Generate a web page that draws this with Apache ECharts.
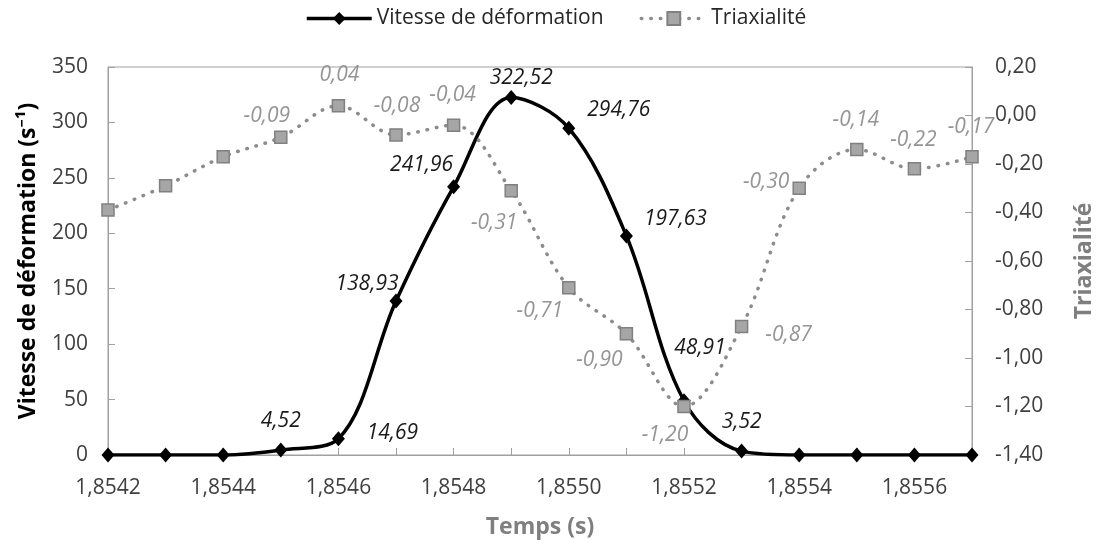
<!DOCTYPE html>
<html>
<head>
<meta charset="utf-8">
<script src="https://cdn.jsdelivr.net/npm/echarts@6/dist/echarts.min.js"></script>
<style>
  html, body { margin: 0; padding: 0; background: #ffffff; }
  #chart { width: 1104px; height: 544px; }
</style>
</head>
<body>
<div id="chart"></div>
<script>
// ---- Data ----
const temps = [1.8542, 1.8543, 1.8544, 1.8545, 1.8546, 1.8547, 1.8548, 1.8549,
               1.8550, 1.8551, 1.8552, 1.8553, 1.8554, 1.8555, 1.8556, 1.8557];
const vitesse = [0, 0, 0, 4.52, 14.69, 138.93, 241.96, 322.52,
                 294.76, 197.63, 48.91, 3.52, 0, 0, 0, 0];
const triaxialite = [-0.39, -0.29, -0.17, -0.09, 0.04, -0.08, -0.04, -0.31,
                     -0.71, -0.90, -1.20, -0.87, -0.30, -0.14, -0.22, -0.17];
const leftTicks = { min: 0, max: 350, step: 50 };
const rightTicks = { min: -1.4, max: 0.2, step: 0.2 };
const seriesNames = ['Vitesse de déformation', 'Triaxialité'];

// ---- Presentation ----
const FONT = "'Open Sans', 'Noto Sans', 'DejaVu Sans', sans-serif";
const fmtComma = (v, d) => (Math.abs(v) < 1e-9 ? 0 : v).toFixed(d).replace('.', ',');

// label offsets (label centre relative to marker), by point index
const vitesseLabelOffsets = {
  3: [0, -29], 4: [54, -6], 5: [-29, -17], 6: [-32, -22], 7: [10, -19],
  8: [50, -18], 9: [49, -17], 10: [16, -53], 11: [0, -29]
};
const triaxLabelOffsets = {
  3: [-14, -21], 4: [1, -31], 5: [1, -29], 6: [-1, -30], 7: [-17, 32],
  8: [-29, 23], 9: [-27, 26], 10: [-19, 29], 11: [47, 9], 12: [-33, -6],
  13: [-1, -29], 14: [-1, -29], 15: [-1, -30]
};

function buildData(values, offsets, color) {
  return values.map((v, i) => {
    const off = offsets[i];
    return {
      value: v,
      label: off ? {
        show: true, position: 'inside', offset: off,
        color: color, fontStyle: 'italic', fontSize: 21, fontFamily: FONT,
        formatter: (p) => fmtComma(p.value, 2)
      } : { show: false }
    };
  });
}

const axisGray = '#a0a0a0';
const chart = echarts.init(document.getElementById('chart'), null, { renderer: 'canvas' });

chart.setOption({
  backgroundColor: '#ffffff',
  animation: false,
  textStyle: { fontFamily: FONT },
  legend: {
    left: 300, top: 3,
    itemWidth: 65, itemHeight: 16, itemGap: 36,
    lineStyle: { width: 'inherit' },
    textStyle: { fontSize: 21, color: '#262626', fontFamily: FONT },
    data: seriesNames
  },
  grid: {
    left: 108, right: 126, top: 67, bottom: 87,
    show: true, borderColor: axisGray, borderWidth: 1, backgroundColor: 'transparent'
  },
  xAxis: {
    type: 'category',
    boundaryGap: false,
    data: temps.map(t => fmtComma(t, 4)),
    name: 'Temps (s)',
    nameLocation: 'middle',
    nameGap: 61,
    nameTextStyle: { fontSize: 23, fontWeight: 'bold', color: '#7f7f7f', fontFamily: FONT },
    axisLine: { lineStyle: { color: axisGray, width: 1 } },
    axisTick: { show: true, inside: true, length: 7, interval: 0, lineStyle: { color: axisGray } },
    axisLabel: { interval: 1, fontSize: 21, color: '#404040', margin: 23, fontFamily: FONT },
    splitLine: { show: false }
  },
  yAxis: [
    {
      type: 'value',
      min: leftTicks.min, max: leftTicks.max, interval: leftTicks.step,
      name: 'Vitesse de déformation (s\u207B\u00B9)',
      nameLocation: 'middle',
      nameGap: 68,
      nameTextStyle: { fontSize: 23, fontWeight: 'bold', color: '#000000', fontFamily: FONT },
      axisLine: { show: true, lineStyle: { color: axisGray, width: 1 } },
      axisTick: { show: true, inside: true, length: 7, lineStyle: { color: axisGray } },
      axisLabel: { fontSize: 21, color: '#404040', margin: 20, fontFamily: FONT },
      splitLine: { show: false }
    },
    {
      type: 'value',
      min: rightTicks.min, max: rightTicks.max, interval: rightTicks.step,
      name: 'Triaxialité',
      nameLocation: 'middle',
      nameGap: 101,
      nameTextStyle: { fontSize: 23, fontWeight: 'bold', color: '#7f7f7f', fontFamily: FONT },
      axisLine: { show: true, lineStyle: { color: axisGray, width: 1 } },
      axisTick: { show: true, inside: true, length: 7, lineStyle: { color: axisGray } },
      axisLabel: { fontSize: 21, color: '#404040', margin: 23, fontFamily: FONT,
                   formatter: (v) => fmtComma(v, 2) },
      splitLine: { show: false }
    }
  ],
  series: [
    {
      name: seriesNames[0],
      type: 'line',
      yAxisIndex: 0,
      smooth: 0.35,
      symbol: 'diamond',
      symbolSize: [13, 15],
      showAllSymbol: true,
      lineStyle: { color: '#000000', width: 3.5 },
      itemStyle: { color: '#000000' },
      data: buildData(vitesse, vitesseLabelOffsets, '#1a1a1a'),
      z: 2
    },
    {
      name: seriesNames[1],
      type: 'line',
      yAxisIndex: 1,
      smooth: 0.35,
      symbol: 'rect',
      symbolSize: 12,
      showAllSymbol: true,
      lineStyle: { color: '#8c8c8c', width: 3.5, type: [0.5, 9], cap: 'round' },
      itemStyle: { color: '#a6a6a6', borderColor: '#808080', borderWidth: 1.5 },
      data: buildData(triaxialite, triaxLabelOffsets, '#959595'),
      z: 3
    }
  ]
});
</script>
</body>
</html>
